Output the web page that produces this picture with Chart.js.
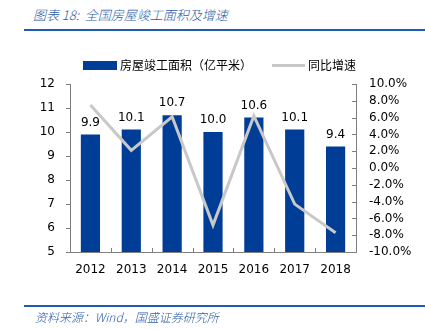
<!DOCTYPE html>
<html>
<head>
<meta charset="utf-8">
<script src="https://cdn.jsdelivr.net/npm/chart.js@4/dist/chart.umd.min.js"></script>
<style>
html,body{margin:0;padding:0;background:#fff;}
#wrap{position:relative;width:425px;height:329px;overflow:hidden;}
#c{position:absolute;left:0;top:0;}
.t{position:absolute;font-family:"Noto Sans CJK SC","DejaVu Sans",sans-serif;font-style:italic;font-weight:300;color:#2A5CAA;white-space:nowrap;}
.rule{position:absolute;left:24px;width:401px;height:2px;background:#1E5BB8;}
</style>
</head>
<body>
<div id="wrap">
<div class="t" style="left:33px;top:5px;font-size:13px;">图表 18:&nbsp;&nbsp;全国房屋竣工面积及增速</div>
<div class="rule" style="top:29px;"></div>
<canvas id="c" width="425" height="329"></canvas>
<div class="rule" style="top:305px;"></div>
<div class="t" style="left:35px;top:308px;font-size:12px;">资料来源：Wind，国盛证券研究所</div>
</div>
<script>
const categories = ['2012','2013','2014','2015','2016','2017','2018'];
const areaValues = [9.9, 10.1, 10.7, 10.0, 10.6, 10.1, 9.4];
const growthValues = [7.5, 2.1, 6.1, -6.8, 6.2, -4.3, -7.7];
const seriesNames = ['房屋竣工面积（亿平米）', '同比增速'];

const BAR = '#003D96', LINE = '#C8C8C8', AXIS = '#808080';
const TICKFONT = '12px "DejaVu Sans", Verdana, sans-serif';

const extras = {
  id: 'extras',
  afterDatasetsDraw(chart) {
    const ctx = chart.ctx;
    const meta = chart.getDatasetMeta(0);
    ctx.save();
    ctx.font = TICKFONT;
    ctx.fillStyle = '#000';
    ctx.textAlign = 'center';
    ctx.textBaseline = 'middle';
    meta.data.forEach((el, i) => {
      ctx.fillText(areaValues[i].toFixed(1), el.x, el.y - 12);
    });
    ctx.restore();
  },
  afterDraw(chart) {
    const ctx = chart.ctx, a = chart.chartArea;
    const y = chart.scales.y, y1 = chart.scales.y1;
    ctx.save();
    ctx.strokeStyle = AXIS;
    ctx.lineWidth = 1;
    ctx.beginPath();
    ctx.moveTo(Math.round(a.left) + 0.5, a.top); ctx.lineTo(Math.round(a.left) + 0.5, a.bottom);
    ctx.moveTo(Math.round(a.right) + 0.5, a.top); ctx.lineTo(Math.round(a.right) + 0.5, a.bottom);
    ctx.moveTo(a.left, Math.round(a.bottom) + 0.5); ctx.lineTo(a.right + 1, Math.round(a.bottom) + 0.5);
    y.ticks.forEach((t, i) => {
      const py = Math.round(y.getPixelForTick(i)) + 0.5;
      ctx.moveTo(a.left - 4, py); ctx.lineTo(a.left, py);
    });
    y1.ticks.forEach((t, i) => {
      const py = Math.round(y1.getPixelForTick(i)) + 0.5;
      ctx.moveTo(a.right - 4, py); ctx.lineTo(a.right, py);
    });
    const n = categories.length;
    const w = (a.right - a.left) / n;
    for (let i = 1; i < n; i++) {
      const px = Math.round(a.left + w * i) + 0.5;
      ctx.moveTo(px, a.bottom - 4); ctx.lineTo(px, a.bottom);
    }
    ctx.stroke();

    const ly = 65;
    ctx.fillStyle = BAR;
    ctx.fillRect(83, ly - 4, 34, 9);
    ctx.font = '12px "Noto Sans CJK SC", sans-serif';
    ctx.fillStyle = '#000';
    ctx.textBaseline = 'middle';
    ctx.textAlign = 'left';
    ctx.fillText(seriesNames[0], 120, ly);
    ctx.strokeStyle = LINE;
    ctx.lineWidth = 3;
    ctx.beginPath();
    ctx.moveTo(272, ly + 0.5); ctx.lineTo(305, ly + 0.5);
    ctx.stroke();
    ctx.fillText(seriesNames[1], 308, ly);
    ctx.restore();
  }
};

new Chart(document.getElementById('c'), {
  data: {
    labels: categories,
    datasets: [
      {
        type: 'bar',
        label: seriesNames[0],
        data: areaValues,
        backgroundColor: BAR,
        yAxisID: 'y',
        barPercentage: 0.47,
        categoryPercentage: 1.0,
        order: 2
      },
      {
        type: 'line',
        label: seriesNames[1],
        data: growthValues,
        borderColor: LINE,
        borderWidth: 3,
        pointRadius: 0,
        tension: 0,
        fill: false,
        yAxisID: 'y1',
        order: 1
      }
    ]
  },
  options: {
    responsive: false,
    animation: false,
    devicePixelRatio: 1,
    layout: { padding: { top: 84, left: 20, right: 0, bottom: 0 } },
    plugins: { legend: { display: false }, tooltip: { enabled: false } },
    scales: {
      x: {
        offset: true,
        grid: { display: false, drawTicks: false },
        border: { display: false },
        ticks: { color: '#000', font: { family: '"DejaVu Sans", Verdana, sans-serif', size: 12 }, padding: 11, maxRotation: 0, autoSkip: false },
        afterFit(s) { s.height = 77; }
      },
      y: {
        position: 'left',
        min: 5, max: 12,
        grid: { display: false, drawTicks: false },
        border: { display: false },
        ticks: { stepSize: 1, autoSkip: false, color: '#000', font: { family: '"DejaVu Sans", Verdana, sans-serif', size: 12 }, padding: 15 },
        afterFit(s) { s.width = 50; }
      },
      y1: {
        position: 'right',
        min: -10, max: 10,
        grid: { display: false, drawTicks: false },
        border: { display: false },
        ticks: { stepSize: 2, autoSkip: false, color: '#000', font: { family: '"DejaVu Sans", Verdana, sans-serif', size: 12 }, padding: 13,
          callback: v => v.toFixed(1) + '%' },
        afterFit(s) { s.width = 69; }
      }
    }
  },
  plugins: [extras]
});
</script>
</body>
</html>
